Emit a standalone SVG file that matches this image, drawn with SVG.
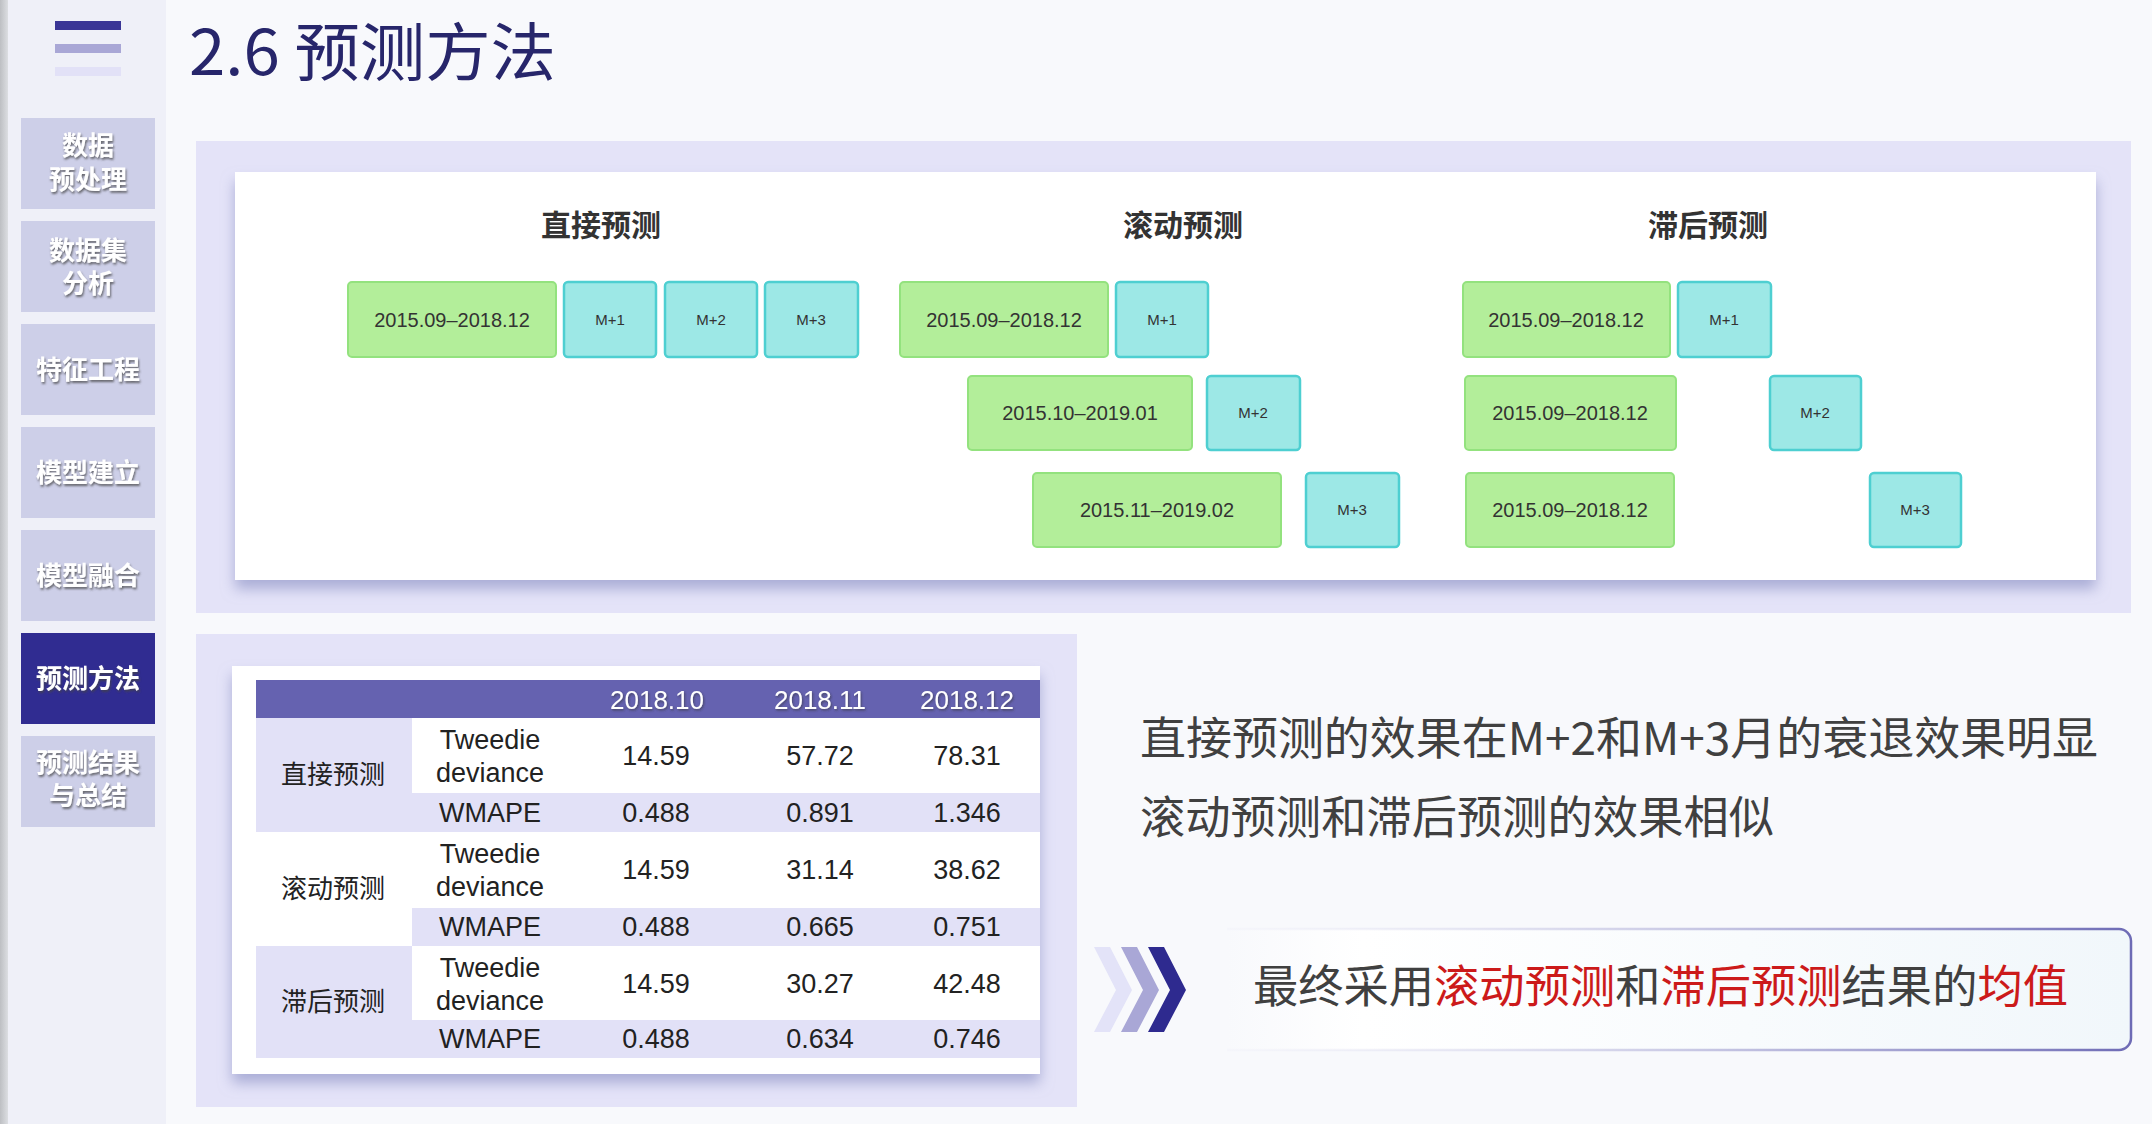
<svg xmlns="http://www.w3.org/2000/svg" width="2152" height="1124" viewBox="0 0 2152 1124">
<style>
.cjk{font-family:"Noto Sans CJK SC","Noto Sans",sans-serif}
.lat{font-family:"Liberation Sans","Noto Sans CJK SC",sans-serif}
.side{fill:#CDCFE8}
.sidet{font-family:"Noto Sans CJK SC",sans-serif;font-size:26px;font-weight:700;fill:#fff;text-anchor:middle;filter:url(#ts)}
.g{fill:#B3EE9A;stroke:#93E27E;stroke-width:2}
.c{fill:#9DE8E6;stroke:#4ECFD1;stroke-width:2.5}
.dt{font-family:"Liberation Sans",sans-serif;font-size:20px;fill:#333;text-anchor:middle}
.mt{font-family:"Liberation Sans",sans-serif;font-size:15px;fill:#333;text-anchor:middle}
.ht{font-family:"Noto Sans CJK SC",sans-serif;font-size:30px;font-weight:700;fill:#333;text-anchor:middle}
.tb{font-family:"Liberation Sans",sans-serif;font-size:27px;fill:#222;text-anchor:middle}
.th{font-family:"Liberation Sans",sans-serif;font-size:26px;fill:#fff;text-anchor:middle;filter:url(#ts2)}
.tl{font-family:"Noto Sans CJK SC",sans-serif;font-size:26px;fill:#222;text-anchor:middle}
.lav{fill:#E2E1F7}
.red{fill:#CC1A1A}
</style>
<defs>
<filter id="ts" x="-20%" y="-20%" width="140%" height="160%"><feDropShadow dx="1" dy="2" stdDeviation="1.3" flood-color="#444" flood-opacity="0.75"/></filter>
<filter id="ts2" x="-20%" y="-20%" width="140%" height="160%"><feDropShadow dx="1" dy="1.5" stdDeviation="1" flood-color="#333" flood-opacity="0.6"/></filter>
<filter id="cs" x="-5%" y="-5%" width="110%" height="120%"><feDropShadow dx="0" dy="9" stdDeviation="7" flood-color="#9296C8" flood-opacity="0.7"/></filter>
<linearGradient id="strip" x1="0" x2="1"><stop offset="0" stop-color="#BDBFC3"/><stop offset="1" stop-color="#DCDEE2"/></linearGradient>
<linearGradient id="cbs" x1="1227" x2="2131" y1="0" y2="0" gradientUnits="userSpaceOnUse"><stop offset="0" stop-color="#E9E9F6" stop-opacity="0.2"/><stop offset="1" stop-color="#6E6BB5"/></linearGradient>
<linearGradient id="cbf" x1="0" x2="1"><stop offset="0" stop-color="#F8F9FC"/><stop offset="0.15" stop-color="#FFFFFF"/><stop offset="1" stop-color="#F1F7FB"/></linearGradient>
</defs>
<rect x="0" y="0" width="2152" height="1124" fill="#F8F9FC"/>
<rect x="8" y="0" width="158" height="1124" fill="#EFF0F8"/>
<rect x="0" y="0" width="8" height="1124" fill="url(#strip)"/>
<g id="menu-icon">
<rect x="55" y="21" width="66" height="9" fill="#3A3596"/>
<rect x="55" y="44" width="66" height="9" fill="#A9A7D6"/>
<rect x="55" y="67" width="66" height="9" fill="#E2E1F7"/>
</g>
<g id="title"><text x="189" y="75" class="cjk" font-size="63" fill="#27266B" textLength="367" lengthAdjust="spacingAndGlyphs">2.6 预测方法</text></g>
<g id="sidebar">
<g id="nav-1"><rect class="side" x="21" y="118" width="134" height="91"/><text class="sidet" x="88" y="155">数据</text><text class="sidet" x="88" y="189">预处理</text></g>
<g id="nav-2"><rect class="side" x="21" y="221" width="134" height="91"/><text class="sidet" x="88" y="260">数据集</text><text class="sidet" x="88" y="293">分析</text></g>
<g id="nav-3"><rect class="side" x="21" y="324" width="134" height="91"/><text class="sidet" x="88" y="379">特征工程</text></g>
<g id="nav-4"><rect class="side" x="21" y="427" width="134" height="91"/><text class="sidet" x="88" y="482">模型建立</text></g>
<g id="nav-5"><rect class="side" x="21" y="530" width="134" height="91"/><text class="sidet" x="88" y="585">模型融合</text></g>
<g id="nav-6"><rect x="21" y="633" width="134" height="91" fill="#302C91"/><text class="sidet" x="88" y="688">预测方法</text></g>
<g id="nav-7"><rect class="side" x="21" y="736" width="134" height="91"/><text class="sidet" x="88" y="772">预测结果</text><text class="sidet" x="88" y="805">与总结</text></g>
</g>
<g id="top-panel">
<rect x="196" y="141" width="1935" height="472" fill="#E4E3F8"/>
<rect x="235" y="172" width="1861" height="408" fill="#fff" filter="url(#cs)"/>
</g>
<g id="direct">
<text class="ht" x="601" y="236">直接预测</text>
<g id="d-train"><rect class="g" x="348" y="282" width="208" height="75" rx="4"/><text class="dt" x="452" y="327">2015.09–2018.12</text></g>
<g id="d-m1"><rect class="c" x="564" y="282" width="92" height="75" rx="4"/><text class="mt" x="610" y="325">M+1</text></g>
<g id="d-m2"><rect class="c" x="665" y="282" width="92" height="75" rx="4"/><text class="mt" x="711" y="325">M+2</text></g>
<g id="d-m3"><rect class="c" x="765" y="282" width="93" height="75" rx="4"/><text class="mt" x="811" y="325">M+3</text></g>
</g>
<g id="rolling">
<text class="ht" x="1183" y="236">滚动预测</text>
<g id="r-train1"><rect class="g" x="900" y="282" width="208" height="75" rx="4"/><text class="dt" x="1004" y="327">2015.09–2018.12</text></g>
<g id="r-m1"><rect class="c" x="1116" y="282" width="92" height="75" rx="4"/><text class="mt" x="1162" y="325">M+1</text></g>
<g id="r-train2"><rect class="g" x="968" y="376" width="224" height="74" rx="4"/><text class="dt" x="1080" y="420">2015.10–2019.01</text></g>
<g id="r-m2"><rect class="c" x="1207" y="376" width="93" height="74" rx="4"/><text class="mt" x="1253" y="418">M+2</text></g>
<g id="r-train3"><rect class="g" x="1033" y="473" width="248" height="74" rx="4"/><text class="dt" x="1157" y="517">2015.11–2019.02</text></g>
<g id="r-m3"><rect class="c" x="1306" y="473" width="93" height="74" rx="4"/><text class="mt" x="1352" y="515">M+3</text></g>
</g>
<g id="lagged">
<text class="ht" x="1708" y="236">滞后预测</text>
<g id="l-train1"><rect class="g" x="1463" y="282" width="207" height="75" rx="4"/><text class="dt" x="1566" y="327">2015.09–2018.12</text></g>
<g id="l-m1"><rect class="c" x="1678" y="282" width="93" height="75" rx="4"/><text class="mt" x="1724" y="325">M+1</text></g>
<g id="l-train2"><rect class="g" x="1465" y="376" width="211" height="74" rx="4"/><text class="dt" x="1570" y="420">2015.09–2018.12</text></g>
<g id="l-m2"><rect class="c" x="1770" y="376" width="91" height="74" rx="4"/><text class="mt" x="1815" y="418">M+2</text></g>
<g id="l-train3"><rect class="g" x="1466" y="473" width="208" height="74" rx="4"/><text class="dt" x="1570" y="517">2015.09–2018.12</text></g>
<g id="l-m3"><rect class="c" x="1870" y="473" width="91" height="74" rx="4"/><text class="mt" x="1915" y="515">M+3</text></g>
</g>
<g id="table-panel">
<rect x="196" y="634" width="881" height="473" fill="#E4E3F8"/>
<rect x="232" y="666" width="808" height="408" fill="#fff" filter="url(#cs)"/>
<rect x="256" y="680" width="784" height="38" fill="#6562B0"/>
<rect class="lav" x="256" y="718" width="156" height="114"/>
<rect class="lav" x="412" y="793" width="628" height="39"/>
<rect class="lav" x="412" y="908" width="628" height="38"/>
<rect class="lav" x="256" y="946" width="156" height="112"/>
<rect class="lav" x="412" y="1020" width="628" height="38"/>
<text class="th" x="657" y="709">2018.10</text>
<text class="th" x="820" y="709">2018.11</text>
<text class="th" x="967" y="709">2018.12</text>
<text class="tl" x="333" y="784">直接预测</text>
<text class="tl" x="333" y="898">滚动预测</text>
<text class="tl" x="333" y="1011">滞后预测</text>
<text class="tb" x="490" y="749">Tweedie</text><text class="tb" x="490" y="782">deviance</text>
<text class="tb" x="490" y="822">WMAPE</text>
<text class="tb" x="490" y="863">Tweedie</text><text class="tb" x="490" y="896">deviance</text>
<text class="tb" x="490" y="936">WMAPE</text>
<text class="tb" x="490" y="977">Tweedie</text><text class="tb" x="490" y="1010">deviance</text>
<text class="tb" x="490" y="1048">WMAPE</text>
<text class="tb" x="656" y="765">14.59</text><text class="tb" x="820" y="765">57.72</text><text class="tb" x="967" y="765">78.31</text>
<text class="tb" x="656" y="822">0.488</text><text class="tb" x="820" y="822">0.891</text><text class="tb" x="967" y="822">1.346</text>
<text class="tb" x="656" y="879">14.59</text><text class="tb" x="820" y="879">31.14</text><text class="tb" x="967" y="879">38.62</text>
<text class="tb" x="656" y="936">0.488</text><text class="tb" x="820" y="936">0.665</text><text class="tb" x="967" y="936">0.751</text>
<text class="tb" x="656" y="993">14.59</text><text class="tb" x="820" y="993">30.27</text><text class="tb" x="967" y="993">42.48</text>
<text class="tb" x="656" y="1048">0.488</text><text class="tb" x="820" y="1048">0.634</text><text class="tb" x="967" y="1048">0.746</text>
</g>
<g id="summary">
<text class="cjk" x="1140" y="755" font-size="45" fill="#404040" textLength="958" lengthAdjust="spacingAndGlyphs">直接预测的效果在M+2和M+3月的衰退效果明显</text>
<text class="cjk" x="1140" y="834" font-size="45" fill="#404040" textLength="634" lengthAdjust="spacingAndGlyphs">滚动预测和滞后预测的效果相似</text>
</g>
<g id="conclusion">
<path d="M1227,929 H2119 A12,12 0 0 1 2131,941 V1038 A12,12 0 0 1 2119,1050 H1227 Z" fill="url(#cbf)"/>
<path d="M1227,929 H2119 A12,12 0 0 1 2131,941 V1038 A12,12 0 0 1 2119,1050 H1227" fill="none" stroke="url(#cbs)" stroke-width="2.5"/>
<polygon points="1094,947 1110,947 1132,990 1110,1032 1094,1032 1116,990" fill="#E3E3F8"/>
<polygon points="1121,947 1137,947 1159,990 1137,1032 1121,1032 1143,990" fill="#A9A7D6"/>
<polygon points="1148,947 1164,947 1186,990 1164,1032 1148,1032 1170,990" fill="#2E2A8F"/>
<text class="cjk" x="1253" y="1003" font-size="45" fill="#404040" textLength="815" lengthAdjust="spacingAndGlyphs">最终采用<tspan class="red">滚动预测</tspan>和<tspan class="red">滞后预测</tspan>结果的<tspan class="red">均值</tspan></text>
</g>
<g id="connectors"/>
</svg>
